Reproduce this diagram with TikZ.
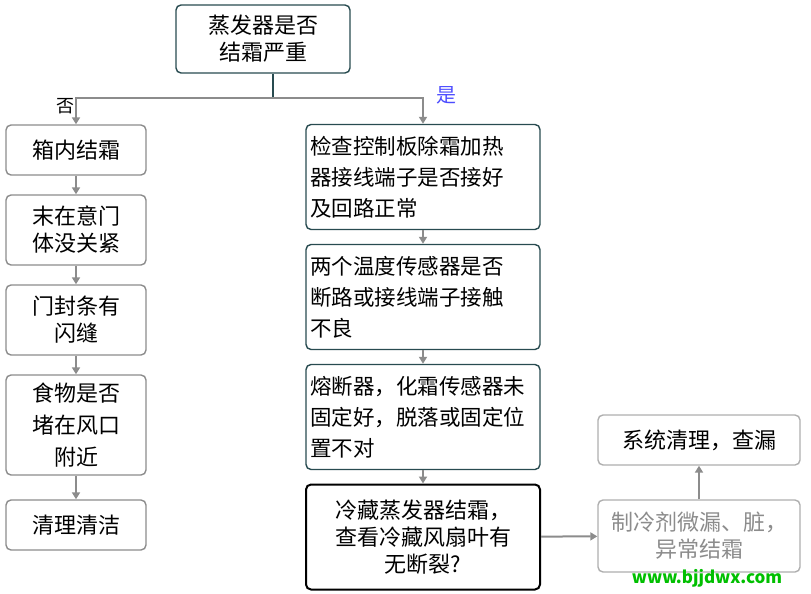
\documentclass[tikz,border=0pt]{standalone}
\usepackage{fontspec}
\setmainfont{Noto Sans CJK SC}
\usetikzlibrary{arrows.meta, positioning}
\definecolor{teal1}{RGB}{40,75,80}
\definecolor{grayline}{RGB}{140,140,140}
\begin{document}
\begin{tikzpicture}[
    x=1pt, y=-1pt,
    box/.style={rectangle, rounded corners=5pt, draw=teal1, line width=1.4pt, fill=white, align=center, font=\fontsize{22}{27}\selectfont, inner sep=3pt},
    lbox/.style={box, draw=grayline, minimum width=140pt},
    mbox/.style={box, minimum width=234pt, minimum height=105pt, align=left, text width=226pt, font=\fontsize{21.5}{31}\selectfont},
    arrow/.style={draw=grayline, line width=2pt, -{Triangle[length=7pt,width=8pt]}},
    line/.style={draw=teal1, line width=2pt}
]
\useasboundingbox (0,0) rectangle (811,594);

% Nodes
\node (frost) [box, minimum width=174pt, minimum height=68pt] at (263,39) {蒸发器是否\\结霜严重};

\node (inside) [lbox, minimum height=50pt] at (76,150) {箱内结霜};
\node (door) [lbox, minimum height=70pt] at (76,230) {末在意门\\体没关紧};
\node (seal) [lbox, minimum height=70pt] at (76,320) {门封条有\\闪缝};
\node (food) [lbox, minimum height=100pt, font=\fontsize{22}{32}\selectfont] at (76,425) {食物是否\\堵在风口\\附近};
\node (clean) [lbox, minimum height=50pt] at (76,525) {清理清洁};

\node (heater) [mbox] at (423,177) {检查控制板除霜加热\\器接线端子是否接好\\及回路正常};
\node (sensor) [mbox] at (423,297) {两个温度传感器是否\\断路或接线端子接触\\不良};
\node (fuse) [mbox] at (423,417) {熔断器，化霜传感器未\\固定好，脱落或固定位\\置不对};
\node (fan) [mbox, draw=black, line width=2pt, align=center, font=\fontsize{22}{27}\selectfont] at (423,537) {冷藏蒸发器结霜，\\查看冷藏风扇叶有\\无断裂?};

\node (leak) [box, draw=grayline!70, text=grayline, minimum width=202pt, minimum height=72pt] at (699,536) {制冷剂微漏、脏，\\异常结霜};
\node (check) [box, draw=grayline!70, minimum width=202pt, minimum height=50pt] at (699,440) {系统清理，查漏};

\coordinate (split) at (273,98);
\node (no) [font=\fontsize{18}{20}\selectfont] at (65,106) {否};
\node (yes) [font=\fontsize{20}{20}\selectfont, text=blue!70] at (446,95) {是};
\node (web) [font=\fontsize{17}{20}\selectfont\bfseries, text=green!75!black] at (707,578) {www.bjjdwx.com};

% Edges
\draw [line] (frost.south -| split) -- (split);
\draw [arrow] (split) -| (inside.north);
\draw [arrow] (split) -| (heater.north);
\draw [arrow] (inside) -- (door);
\draw [arrow] (door) -- (seal);
\draw [arrow] (seal) -- (food);
\draw [arrow] (food) -- (clean);
\draw [arrow] (heater) -- (sensor);
\draw [arrow] (sensor) -- (fuse);
\draw [arrow] (fuse) -- (fan);
\draw [arrow] (fan) -- (leak);
\draw [arrow] (leak) -- (check);
\end{tikzpicture}
\end{document}
